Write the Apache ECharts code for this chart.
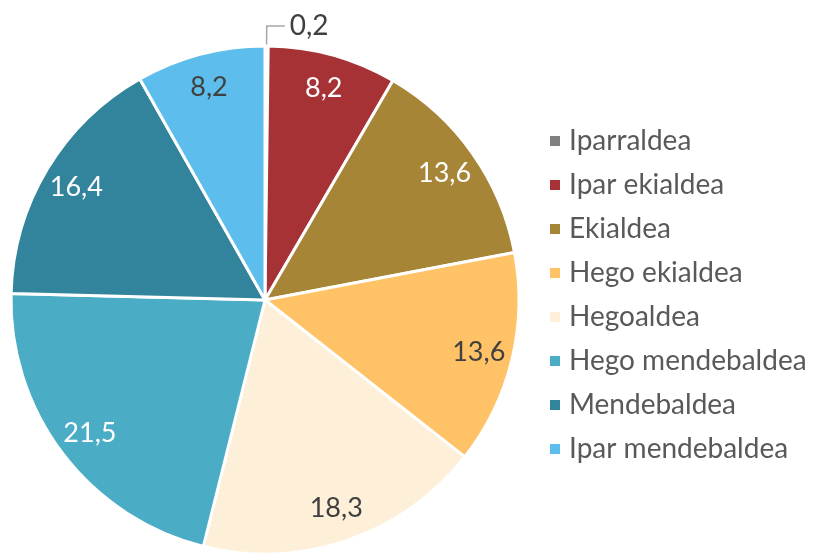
<!DOCTYPE html>
<html>
<head>
<meta charset="utf-8">
<script src="https://cdn.jsdelivr.net/npm/echarts@6/dist/echarts.min.js"></script>
<style>
  html, body { margin: 0; padding: 0; background: #fff; }
  #chart { width: 825px; height: 553px; }
</style>
</head>
<body>
<div id="chart"></div>
<script>
// Regions and their shares (%)
const regions = ['Iparraldea', 'Ipar ekialdea', 'Ekialdea', 'Hego ekialdea', 'Hegoaldea', 'Hego mendebaldea', 'Mendebaldea', 'Ipar mendebaldea'];
const shares = [0.2, 8.2, 13.6, 13.6, 18.3, 21.5, 16.4, 8.2];
const sliceColors = ['#808080', '#A73236', '#A68537', '#FFC266', '#FEEFD9', '#4BACC6', '#31849B', '#5DBEEE'];
const labelColors = ['#404040', '#ffffff', '#ffffff', '#404040', '#404040', '#ffffff', '#ffffff', '#404040'];

const FONT = 'Lato, "Open Sans", sans-serif';
const fmt = v => String(v).replace('.', ',');

const center = [265, 300];
const R = 254;

const sliceData = regions.map((name, i) => ({
  name, value: shares[i],
  itemStyle: { color: sliceColors[i] }
}));

// Label ring: same angles, transparent, labels sit in the middle of the ring
const labelData = regions.map((name, i) => {
  const d = {
    name, value: shares[i],
    itemStyle: { color: 'rgba(0,0,0,0)', borderWidth: 0 },
    label: { color: labelColors[i] }
  };
  if (i === 0) {
    d.label = { position: 'outside', color: '#404040', fontSize: 28 };
    d.labelLine = { show: true, length: 20, length2: 18, lineStyle: { color: '#A6A6A6', width: 1.5 } };
  }
  return d;
});

const chart = echarts.init(document.getElementById('chart'), null, { renderer: 'canvas' });
chart.setOption({
  animation: false,
  legend: {
    orient: 'vertical',
    left: 543,
    top: 120,
    icon: 'rect',
    itemWidth: 12,
    itemHeight: 12,
    itemGap: 12,
    selectedMode: false,
    data: regions,
    textStyle: { fontFamily: FONT, fontSize: 28, lineHeight: 32, color: '#595959', padding: [0, 0, 0, 3] }
  },
  series: [
    {
      type: 'pie',
      center: center,
      radius: [0, R],
      startAngle: 90,
      clockwise: true,
      silent: true,
      label: { show: false },
      labelLine: { show: false },
      itemStyle: { borderColor: '#ffffff', borderWidth: 3 },
      data: sliceData
    },
    {
      type: 'pie',
      center: center,
      radius: [180, R],
      startAngle: 90,
      clockwise: true,
      silent: true,
      legendHoverLink: false,
      avoidLabelOverlap: false,
      label: {
        show: true,
        position: 'inside',
        fontFamily: FONT,
        fontSize: 27,
        formatter: p => fmt(p.value)
      },
      labelLine: { show: false },
      data: labelData
    }
  ]
});
</script>
</body>
</html>
